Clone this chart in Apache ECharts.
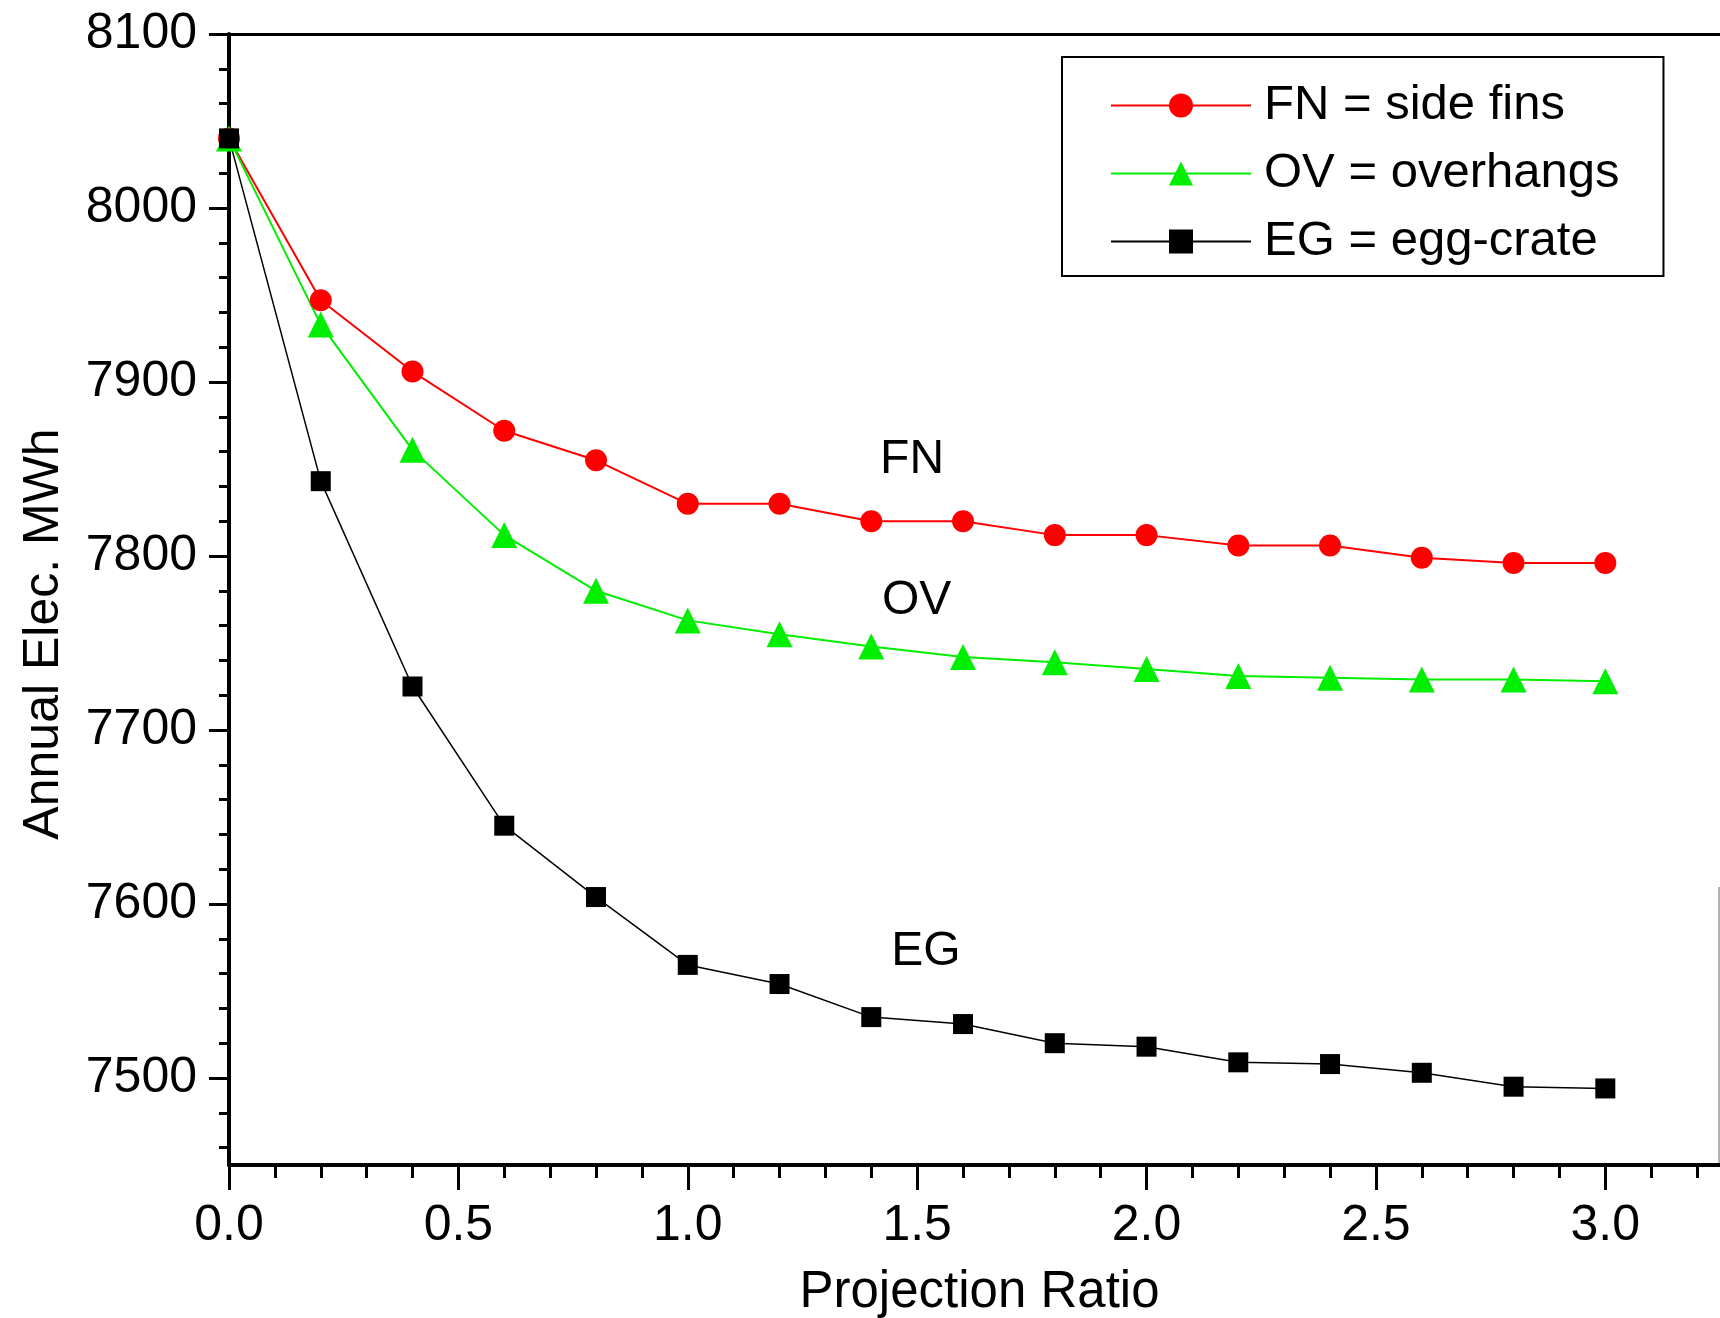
<!DOCTYPE html>
<html>
<head>
<meta charset="utf-8">
<script src="https://cdn.jsdelivr.net/npm/echarts@6/dist/echarts.min.js"></script>
<style>
html,body{margin:0;padding:0;background:#fff;}
#chart{width:1720px;height:1318px;}
</style>
</head>
<body>
<div id="chart"></div>
<script>
const ratios = [0.0,0.2,0.4,0.6,0.8,1.0,1.2,1.4,1.6,1.8,2.0,2.2,2.4,2.6,2.8,3.0];
const fnValues = [8040,7947,7906,7872,7855,7830,7830,7820,7820,7812,7812,7806,7806,7799,7796,7796];
const ovValues = [8040,7933,7861,7812,7780,7763,7755,7748,7742,7739,7735,7731,7730,7729,7729,7728];
const egValues = [8040,7843,7725,7645,7604,7565,7554,7535,7531,7520,7518,7509,7508,7503,7495,7494];
const seriesNames = ['FN = side fins','OV = overhangs','EG = egg-crate'];
const yTicks = [7500,7600,7700,7800,7900,8000,8100];
const xTicks = [0.0,0.5,1.0,1.5,2.0,2.5,3.0];
const annotations = [
  {text:'FN', x:1.49, y:7855},
  {text:'OV', x:1.50, y:7774},
  {text:'EG', x:1.52, y:7572}
];

const FONT = '"Liberation Sans", Arial, sans-serif';
const yMinor = [];
for (let v = 7460; v <= 8090; v += 20) yMinor.push(v);
const xMinor = [];
for (let i = 0; i <= 32; i++) xMinor.push(+(i/10).toFixed(1));

const pair = arr => ratios.map((r,i)=>[r, arr[i]]);

const chart = echarts.init(document.getElementById('chart'), null, {renderer:'canvas'});
const axisLineStyle = {color:'#000', width:4};
const option = {
  animation:false,
  backgroundColor:'#fff',
  grid:{left:229, top:34, right:0, bottom:153, containLabel:false, outerBoundsMode:'none'},
  legend:{
    left:1062, top:57,
    orient:'vertical',
    data:seriesNames,
    itemWidth:140, itemHeight:30, itemGap:19,
    padding:[24,44,10,48],
    borderColor:'#000', borderWidth:2,
    backgroundColor:'#fff',
    textStyle:{fontFamily:FONT, fontSize:49, color:'#000', padding:[0,0,0,8]}
  },
  graphic:[
    {type:'text', x:44, y:634, rotation:Math.PI/2,
     style:{text:'Annual Elec. MWh', fontFamily:FONT, fontSize:50, fill:'#000', align:'center', verticalAlign:'middle'}},
    {type:'line', shape:{x1:1719, y1:887, x2:1719, y2:1165},
     style:{stroke:'#999', lineWidth:1.5}}
  ],
  xAxis:[
    {type:'value', min:0, max:3.25, position:'bottom',
     axisLine:{show:true, onZero:false, lineStyle:axisLineStyle},
     axisTick:{show:true, length:25, lineStyle:{color:'#000', width:3}, customValues:xTicks},
     axisLabel:{customValues:xTicks, formatter:v=>v.toFixed(1), fontFamily:FONT, fontSize:50, color:'#000', margin:36},
     splitLine:{show:false},
     name:'Projection Ratio', nameLocation:'middle', nameGap:102,
     nameTextStyle:{fontFamily:FONT, fontSize:51, color:'#000', padding:[0,0,0,10]}},
    {type:'value', min:0, max:3.25, position:'bottom',
     axisLine:{show:false},
     axisTick:{show:true, length:13, lineStyle:{color:'#000', width:3}, customValues:xMinor},
     axisLabel:{show:false}, splitLine:{show:false}},
    {type:'value', min:0, max:3.25, position:'top',
     axisLine:{show:true, onZero:false, lineStyle:{color:'#000', width:3}},
     axisTick:{show:false}, axisLabel:{show:false}, splitLine:{show:false}}
  ],
  yAxis:[
    {type:'value', min:7450, max:8100, position:'left',
     axisLine:{show:true, onZero:false, lineStyle:axisLineStyle},
     axisTick:{show:true, length:20, lineStyle:{color:'#000', width:3}, customValues:yTicks},
     axisLabel:{customValues:yTicks, formatter:v=>String(v), fontFamily:FONT, fontSize:50, color:'#000', margin:32},
     splitLine:{show:false}},
    {type:'value', min:7450, max:8100, position:'left',
     axisLine:{show:false},
     axisTick:{show:true, length:10, lineStyle:{color:'#000', width:3}, customValues:yMinor},
     axisLabel:{show:false}, splitLine:{show:false}}
  ],
  series:[
    {name:seriesNames[0], type:'line', data:pair(fnValues), clip:false,
     symbol:'circle', symbolSize:22, color:'#ff0000',
     lineStyle:{color:'#ff0000', width:2}, itemStyle:{color:'#ff0000'}},
    {name:seriesNames[1], type:'line', data:pair(ovValues), clip:false,
     symbol:'triangle', symbolSize:26, color:'#00ee00',
     lineStyle:{color:'#00ee00', width:2}, itemStyle:{color:'#00ee00'}},
    {name:seriesNames[2], type:'line', data:pair(egValues), clip:false,
     symbol:'rect', symbolSize:20, color:'#000',
     lineStyle:{color:'#000', width:1.5}, itemStyle:{color:'#000'}},
    {name:'annotations', type:'scatter', silent:true, clip:false,
     data:annotations.map(a=>({value:[a.x,a.y], name:a.text})),
     symbolSize:1, itemStyle:{color:'rgba(0,0,0,0)'},
     label:{show:true, position:[0,0], align:'center', verticalAlign:'middle',
            formatter:p=>p.name, fontFamily:FONT, fontSize:48, color:'#000', opacity:1}}
  ]
};
chart.setOption(option);
</script>
</body>
</html>
